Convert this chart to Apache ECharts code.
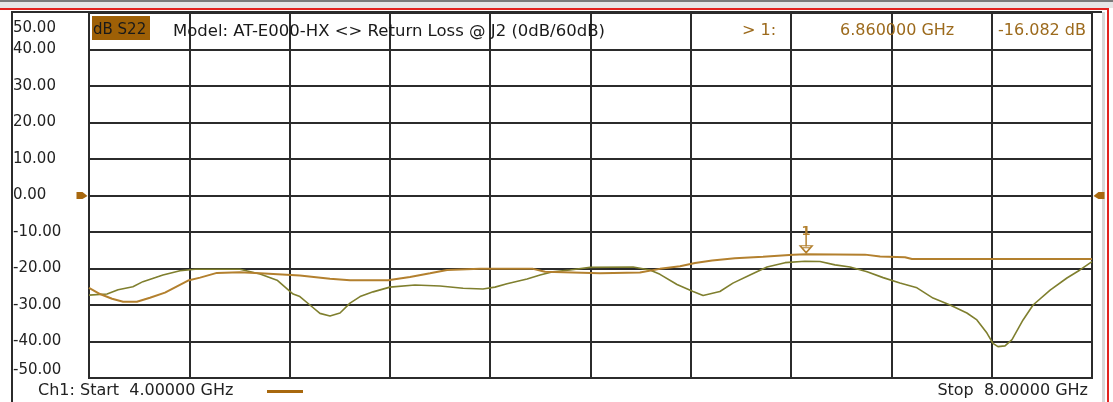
<!DOCTYPE html>
<html>
<head>
<meta charset="utf-8">
<script src="https://cdn.jsdelivr.net/npm/echarts@6/dist/echarts.min.js"></script>
<style>
html,body{margin:0;padding:0;background:#fff;}
#c{width:1113px;height:402px;}
</style>
</head>
<body>
<div id="c"></div>
<script>
// ---- data ----
const yTickLabels = ['50.00','40.00','30.00','20.00','10.00','0.00','-10.00','-20.00','-30.00','-40.00','-50.00'];
const s22Freq = [4.000,4.044,4.092,4.136,4.191,4.243,4.303,4.395,4.443,4.510,4.602,4.682,4.841,4.961,5.041,5.192,5.280,5.360,5.428,5.560,5.771,5.819,6.038,6.197,6.277,6.357,6.417,6.485,6.576,6.688,6.808,6.859,7.095,7.155,7.254,7.282,7.633,8.000];
const s22Val  = [-25.3,-27.0,-28.3,-29.1,-29.1,-28.0,-26.6,-23.3,-22.5,-21.2,-21.0,-21.3,-21.9,-22.8,-23.2,-23.2,-22.3,-21.3,-20.4,-20.1,-20.1,-20.9,-21.3,-21.1,-20.1,-19.4,-18.5,-17.8,-17.2,-16.8,-16.2,-16.1,-16.2,-16.7,-16.9,-17.4,-17.4,-17.4];
const refFreq = [4.000,4.072,4.116,4.175,4.215,4.295,4.363,4.423,4.602,4.682,4.750,4.814,4.841,4.881,4.921,4.961,5.001,5.041,5.081,5.133,5.200,5.300,5.400,5.492,5.571,5.619,5.667,5.747,5.799,5.850,5.918,5.998,6.170,6.237,6.277,6.345,6.409,6.449,6.516,6.568,6.636,6.704,6.776,6.855,6.915,6.975,7.035,7.103,7.167,7.234,7.302,7.366,7.434,7.501,7.541,7.581,7.605,7.625,7.653,7.681,7.725,7.765,7.833,7.900,7.952,8.000];
const refVal  = [-27.3,-27.0,-25.8,-25.0,-23.6,-21.8,-20.6,-20.2,-20.2,-21.5,-23.2,-27.0,-27.7,-30.0,-32.3,-33.0,-32.2,-29.5,-27.7,-26.4,-25.1,-24.5,-24.8,-25.4,-25.6,-25.1,-24.2,-22.9,-21.8,-20.9,-20.4,-19.7,-19.6,-20.4,-21.6,-24.4,-26.3,-27.4,-26.3,-24.0,-21.8,-19.6,-18.4,-18.0,-18.1,-19.0,-19.6,-20.9,-22.5,-24.0,-25.3,-28.1,-30.0,-32.2,-34.1,-37.7,-40.5,-41.4,-41.2,-39.5,-34.1,-30.0,-25.9,-22.6,-20.4,-18.1];
const marker1 = {freq: 6.86, val: -16.082, name: '1'};
const refLevel = 0;
const headerTexts = {
  trace: 'dB S22',
  model: 'Model: AT-E000-HX <> Return Loss @ J2 (0dB/60dB)',
  mk: '> 1:',
  mkFreq: '6.860000 GHz',
  mkVal: '-16.082 dB',
  start: 'Ch1: Start  4.00000 GHz',
  stop: 'Stop  8.00000 GHz'
};

const BROWN = '#b3802e';
const OLIVE = '#7f7f2e';
const MKTXT = '#9c6a1c';
const FONT = 'DejaVu Sans';

const chart = echarts.init(document.getElementById('c'), null, {renderer: 'canvas'});

function pairs(xs, ys){ return xs.map((x,i)=>[x, ys[i]]); }

const option = {
  animation: false,
  backgroundColor: '#ffffff',
  grid: {left: 89, right: 21, top: 13, bottom: 24, show: true, borderColor: '#2b2b2b', borderWidth: 2, backgroundColor: '#fff'},
  xAxis: {
    type: 'value', min: 4, max: 8, interval: 0.4,
    axisLine: {show: false}, axisTick: {show: false}, axisLabel: {show: false},
    splitLine: {show: true, lineStyle: {color: '#2b2b2b', width: 2}}
  },
  yAxis: {
    type: 'value', min: -50, max: 50, interval: 10,
    axisLine: {show: false}, axisTick: {show: false},
    splitLine: {show: true, lineStyle: {color: '#2b2b2b', width: 2}},
    axisLabel: {
      show: true, align: 'left', margin: 76, color: '#222', fontFamily: FONT, fontSize: 15,
      formatter: function(v){
        const idx = Math.round((50 - v)/10);
        const t = yTickLabels[idx];
        if (v === 50) return '{t|' + t + '}';
        if (v === -50) return '{b|' + t + '}';
        return t;
      },
      rich: {
        t: {padding: [30,0,0,0], color:'#222', fontFamily: FONT, fontSize: 15},
        b: {padding: [0,0,16,0], color:'#222', fontFamily: FONT, fontSize: 15}
      }
    }
  },
  series: [
    {
      type: 'line', name: 'ref', data: pairs(refFreq, refVal), showSymbol: false, symbol: 'none',
      lineStyle: {color: OLIVE, width: 1.6}, z: 3
    },
    {
      type: 'line', name: 'S22', data: pairs(s22Freq, s22Val), showSymbol: false, symbol: 'none',
      lineStyle: {color: BROWN, width: 2}, z: 4,
      markPoint: {
        silent: true,
        data: [
          {
            coord: [marker1.freq, marker1.val],
            symbol: 'path://M0,0 L12,0 L6,7 Z M2,2 L10,2',
            symbolSize: [12, 7], symbolOffset: [0, -5],
            itemStyle: {color: 'rgba(0,0,0,0)', borderColor: BROWN, borderWidth: 1.5},
            label: {show: true, position: 'top', distance: 0, formatter: marker1.name + '\n|', lineHeight: 9, color: BROWN, fontFamily: FONT, fontSize: 13, fontWeight: 'bold'}
          },
          {
            coord: [4, refLevel],
            symbol: 'path://M0,0 L6,0 L11,4 L6,7 L0,7 Z',
            symbolSize: [11, 7], symbolOffset: [-7, 0],
            itemStyle: {color: '#a8680e'}, label: {show: false}
          },
          {
            coord: [8, refLevel],
            symbol: 'path://M11,0 L5,0 L0,4 L5,7 L11,7 Z',
            symbolSize: [11, 7], symbolOffset: [7, 0],
            itemStyle: {color: '#a8680e'}, label: {show: false}
          }
        ]
      }
    }
  ],
  graphic: [
    // top window chrome
    {type: 'rect', shape: {x: 0, y: 0, width: 1113, height: 8}, style: {fill: '#e6e6e6'}, silent: true},
    {type: 'rect', shape: {x: 0, y: 0, width: 1113, height: 2}, style: {fill: '#7a7a7a'}, silent: true},
    {type: 'rect', shape: {x: 0, y: 8, width: 1109, height: 2}, style: {fill: '#e2231f'}, silent: true},
    {type: 'rect', shape: {x: 1107, y: 8, width: 2, height: 394}, style: {fill: '#e2231f'}, silent: true},
    {type: 'rect', shape: {x: 1102, y: 12, width: 3, height: 390}, style: {fill: '#d8d8d8'}, silent: true},
    {type: 'rect', shape: {x: 11, y: 11, width: 1091, height: 2}, style: {fill: '#2b2b2b'}, silent: true},
    {type: 'rect', shape: {x: 11, y: 11, width: 2, height: 391}, style: {fill: '#2b2b2b'}, silent: true},
    // header
    {type: 'rect', shape: {x: 92, y: 16, width: 58, height: 24}, style: {fill: '#9e6006'}, silent: true, z: 10},
    {type: 'text', x: 93, y: 30, style: {text: headerTexts.trace, fill: '#1a1a1a', font: '15px "' + FONT + '"', textVerticalAlign: 'middle'}, z: 11},
    {type: 'text', x: 173, y: 32, style: {text: headerTexts.model, fill: '#1a1a1a', font: '16.5px "' + FONT + '"', textVerticalAlign: 'middle'}, z: 11},
    {type: 'text', x: 742, y: 31, style: {text: headerTexts.mk, fill: MKTXT, font: '16px "' + FONT + '"', textVerticalAlign: 'middle'}, z: 11},
    {type: 'text', x: 840, y: 31, style: {text: headerTexts.mkFreq, fill: MKTXT, font: '16px "' + FONT + '"', textVerticalAlign: 'middle'}, z: 11},
    {type: 'text', x: 998, y: 31, style: {text: headerTexts.mkVal, fill: MKTXT, font: '16px "' + FONT + '"', textVerticalAlign: 'middle'}, z: 11},
    // footer
    {type: 'text', x: 38, y: 391, style: {text: headerTexts.start, fill: '#222', font: '16px "' + FONT + '"', textVerticalAlign: 'middle'}, z: 11},
    {type: 'rect', shape: {x: 267, y: 390, width: 36, height: 3}, style: {fill: '#a8680e'}, silent: true},
    {type: 'text', x: 1088, y: 391, style: {text: headerTexts.stop, fill: '#222', font: '16px "' + FONT + '"', textVerticalAlign: 'middle', textAlign: 'right'}, z: 11}
  ]
};
chart.setOption(option);
</script>
</body>
</html>
